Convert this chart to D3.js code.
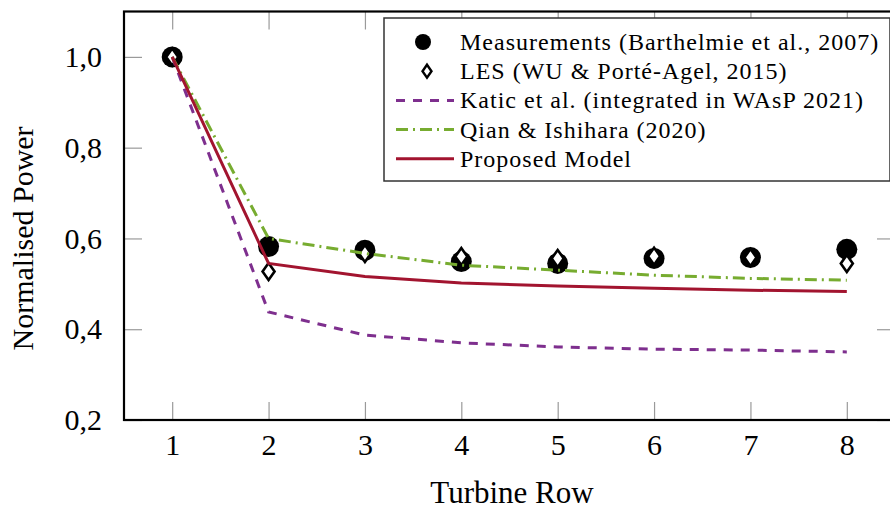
<!DOCTYPE html>
<html>
<head>
<meta charset="utf-8">
<script src="https://cdn.jsdelivr.net/npm/d3@7"></script>
<style>
  @font-face { font-family: "ChartSerif"; src: local("Liberation Serif"), local("LiberationSerif"); }
  body { margin: 0; background: #fff; }
  svg { display: block; }
</style>
</head>
<body>
<div id="chart"></div>
<script>
// turbine rows and series values
var rows = [1, 2, 3, 4, 5, 6, 7, 8];
var measurements = [1.0, 0.582, 0.574, 0.549, 0.545, 0.556, 0.558, 0.576];
var les = [1.0, 0.527, 0.567, 0.560, 0.556, 0.561, 0.558, 0.545];
var katic = [1.0, 0.438, 0.387, 0.370, 0.361, 0.356, 0.354, 0.350];
var qian = [1.0, 0.600, 0.567, 0.541, 0.530, 0.519, 0.512, 0.508];
var proposed = [1.0, 0.545, 0.516, 0.502, 0.495, 0.490, 0.486, 0.483];
var yTicks = [0.2, 0.4, 0.6, 0.8, 1.0];
var legendLabels = [
  "Measurements (Barthelmie et al., 2007)",
  "LES (WU & Porté-Agel, 2015)",
  "Katic et al. (integrated in WAsP 2021)",
  "Qian & Ishihara (2020)",
  "Proposed Model"
];

var FONT = "Liberation Serif";
var W = 890, H = 511;
var margin = {top: 11.5, right: -5, bottom: 91, left: 124};
var width = W - margin.left - margin.right,
    height = H - margin.top - margin.bottom;

var svg = d3.select("#chart").append("svg")
  .attr("width", W)
  .attr("height", H)
  .attr("font-family", FONT);

var g = svg.append("g")
  .attr("transform", "translate(" + margin.left + "," + margin.top + ")");

var x = d3.scaleLinear().domain([0.5, 8.5]).range([0, width]);
var y = d3.scaleLinear().domain([0.2, 1.1]).range([height, 0]);

// decimal comma on the y labels
function comma(d) { return d3.format(".1f")(d).replace(".", ","); }

// axes: ticks point inward, grey
function styleAxis(sel) {
  sel.attr("font-family", FONT).attr("font-size", 30);
  sel.selectAll(".tick line").attr("stroke", "#9a9a9a").attr("stroke-width", 1.2);
  sel.select(".domain").remove();
  sel.selectAll("text").attr("fill", "#000").attr("font-family", FONT);
}

g.append("g")
  .attr("transform", "translate(0," + height + ")")
  .call(d3.axisBottom(x).tickValues(rows).tickFormat(d3.format("d")).tickSizeInner(-18).tickSizeOuter(0).tickPadding(14))
  .call(styleAxis);

g.append("g")
  .call(d3.axisTop(x).tickValues(rows).tickFormat("").tickSizeInner(-18).tickSizeOuter(0))
  .call(styleAxis);

g.append("g")
  .call(d3.axisLeft(y).tickValues(yTicks).tickFormat(comma).tickSizeInner(-18).tickSizeOuter(0).tickPadding(22))
  .call(styleAxis);

g.append("g")
  .attr("transform", "translate(" + width + ",0)")
  .call(d3.axisRight(y).tickValues(yTicks).tickFormat("").tickSizeInner(-18).tickSizeOuter(0))
  .call(styleAxis);

// frame
g.append("rect")
  .attr("x", 0).attr("y", 0)
  .attr("width", width).attr("height", height)
  .attr("fill", "none")
  .attr("stroke", "#000")
  .attr("stroke-width", 2.2);

// axis titles
svg.append("text")
  .attr("x", 512)
  .attr("y", 503)
  .attr("text-anchor", "middle")
  .attr("font-family", FONT)
  .attr("font-size", 31)
  .text("Turbine Row");

svg.append("text")
  .attr("transform", "translate(33," + (y(0.6) + margin.top) + ") rotate(-90)")
  .attr("text-anchor", "middle")
  .attr("font-family", FONT)
  .attr("font-size", 30)
  .text("Normalised Power");

// markers
function diamondPath(cx, cy, hw, hh) {
  return "M" + cx + "," + (cy - hh) + "L" + (cx + hw) + "," + cy + "L" + cx + "," + (cy + hh) + "L" + (cx - hw) + "," + cy + "Z";
}

g.selectAll(".meas")
  .data(measurements)
  .enter().append("circle")
  .attr("cx", function(d, i) { return x(rows[i]); })
  .attr("cy", function(d) { return y(d); })
  .attr("r", 10.5)
  .attr("fill", "#000");

g.selectAll(".les")
  .data(les)
  .enter().append("path")
  .attr("d", function(d, i) { return diamondPath(x(rows[i]), y(d), 6, 8.5); })
  .attr("fill", "#fff")
  .attr("stroke", "#000")
  .attr("stroke-width", 2.6);

// lines
var line = d3.line()
  .x(function(d, i) { return x(rows[i]); })
  .y(function(d) { return y(d); });

var seriesStyles = [
  {data: katic, color: "#7E2F8E", dash: "9,8"},
  {data: qian, color: "#77AC30", dash: "12,5,2,5"},
  {data: proposed, color: "#A2142F", dash: null}
];

seriesStyles.forEach(function(s) {
  g.append("path")
    .datum(s.data)
    .attr("d", line)
    .attr("fill", "none")
    .attr("stroke", s.color)
    .attr("stroke-width", 3)
    .attr("stroke-dasharray", s.dash);
});

// legend
var legend = svg.append("g").attr("transform", "translate(384,18)");
legend.append("rect")
  .attr("width", 506).attr("height", 163)
  .attr("fill", "#fff")
  .attr("stroke", "#333")
  .attr("stroke-width", 1.5);

var rowH = 29.2;
legendLabels.forEach(function(label, i) {
  var cy = 24 + i * rowH;
  if (i === 0) {
    legend.append("circle").attr("cx", 39).attr("cy", cy).attr("r", 8).attr("fill", "#000");
  } else if (i === 1) {
    legend.append("path").attr("d", diamondPath(43, cy, 4.5, 6.5))
      .attr("fill", "#fff").attr("stroke", "#000").attr("stroke-width", 2.4);
  } else {
    var s = seriesStyles[i - 2];
    legend.append("line")
      .attr("x1", 12).attr("x2", 70)
      .attr("y1", cy).attr("y2", cy)
      .attr("stroke", s.color)
      .attr("stroke-width", 3)
      .attr("stroke-dasharray", s.dash);
  }
  legend.append("text")
    .attr("x", 76)
    .attr("y", cy + 8)
    .attr("font-family", FONT)
    .attr("font-size", 24)
    .attr("letter-spacing", 1)
    .text(label);
});
</script>
</body>
</html>
